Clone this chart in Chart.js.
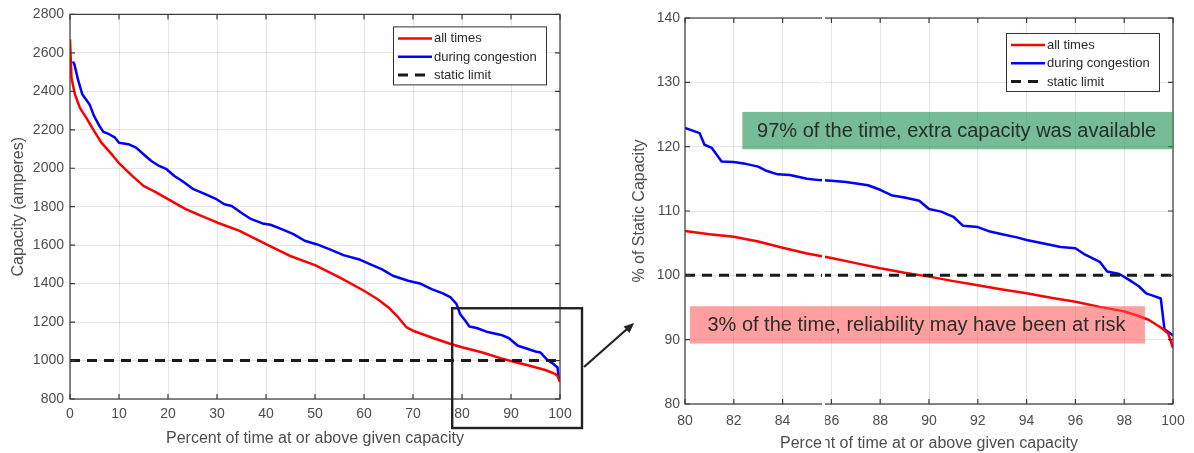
<!DOCTYPE html>
<html><head><meta charset="utf-8">
<script src="https://cdn.jsdelivr.net/npm/chart.js@4.4.1/dist/chart.umd.min.js"></script>
<style>
html,body{margin:0;padding:0;background:#fff;}
#wrap{position:relative;width:1194px;height:453px;overflow:hidden;background:#fff;}
#c1{position:absolute;left:0;top:0;}
#c2{position:absolute;left:600px;top:0;}
#ov{position:absolute;left:0;top:0;pointer-events:none;}
</style></head><body>
<div id="wrap">
<canvas id="c1" width="600" height="453"></canvas>
<canvas id="c2" width="594" height="453"></canvas>
<svg id="ov" width="1194" height="453">
  <line x1="584" y1="367" x2="627" y2="329" stroke="#222" stroke-width="2.2"/>
  <polygon points="634,323 629.5,333 623.5,326.5" fill="#222"/>
</svg>
</div>
<script>
// ---------- DATA ----------
const seriesNames = ['all times', 'during congestion', 'static limit'];
const seriesColors = ['#ff0000', '#0000ff', '#1a1a1a'];

// Left panel: capacity in amperes vs percent of time
const leftXTicks = [0, 10, 20, 30, 40, 50, 60, 70, 80, 90, 100];
const leftYTicks = [800, 1000, 1200, 1400, 1600, 1800, 2000, 2200, 2400, 2600, 2800];

const leftAllX = [0, 0.3, 1, 2, 3.3, 4.9, 6.4, 8.8, 10.2, 12.7, 15, 17.4, 20, 23.6, 26.8, 30, 34.6, 40, 44.8, 50, 55, 60, 62.8, 65, 67, 68.7, 70, 73.8, 77.7, 80, 84, 88, 90, 94, 97, 99, 99.5, 100];
const leftAllY = [2670, 2470, 2385, 2315, 2263, 2194, 2133, 2064, 2021, 1960, 1908, 1877, 1839, 1787, 1752, 1718, 1674, 1605, 1545, 1496, 1432, 1363, 1319, 1276, 1224, 1172, 1155, 1120, 1086, 1069, 1043, 1011, 998, 972, 951, 931, 919, 888];

const leftCongX = [0.6, 0.9, 1.7, 2.5, 4, 4.9, 6, 6.8, 8, 9.2, 10, 11.9, 13.5, 15, 16.6, 18.2, 19.7, 21.3, 22.9, 25.2, 27.6, 29.9, 31.5, 33, 35.4, 37, 39.3, 40.9, 43.2, 45.6, 47.9, 50.3, 53.4, 55.8, 58.9, 61.2, 63.6, 65.9, 69, 71.4, 73.8, 76.1, 77.7, 78.9, 79.6, 80.8, 81.5, 83, 85, 88, 89.6, 91.4, 93, 95, 96, 97.3, 98.6, 99.5, 99.7, 100];
const leftCongY = [2555, 2540, 2454, 2385, 2332, 2272, 2220, 2189, 2177, 2159, 2133, 2125, 2107, 2073, 2038, 2012, 1995, 1960, 1934, 1891, 1865, 1839, 1813, 1804, 1761, 1735, 1713, 1706, 1683, 1657, 1623, 1605, 1574, 1548, 1527, 1501, 1475, 1441, 1415, 1401, 1371, 1349, 1328, 1293, 1242, 1203, 1177, 1169, 1150, 1133, 1116, 1077, 1064, 1047, 1042, 1006, 983, 964, 915, 907];

const leftStaticX = [0, 100];
const leftStaticY = [1000, 1000];

// Right panel: % of static capacity, zoom on 80-100 %
const rightXTicks = [80, 82, 84, 86, 88, 90, 92, 94, 96, 98, 100];
const rightYTicks = [80, 90, 100, 110, 120, 130, 140];

const rightAllX = [80, 81, 82, 83, 84, 85, 86, 87, 88, 89, 90, 91, 92, 93, 94, 95, 96, 97, 98, 98.5, 99, 99.5, 99.8, 100];
const rightAllY = [106.9, 106.4, 106.0, 105.25, 104.3, 103.4, 102.7, 101.9, 101.1, 100.4, 99.8, 99.1, 98.45, 97.8, 97.2, 96.5, 95.9, 95.1, 94.4, 93.8, 93.1, 91.9, 91.0, 88.7];

const rightCongX = [80, 80.6, 80.8, 81.1, 81.5, 82, 82.4, 83, 83.3, 83.8, 84.3, 85, 85.5, 86, 86.6, 87.5, 88, 88.5, 89, 89.6, 90, 90.5, 91, 91.4, 92, 92.5, 93, 93.6, 94, 94.5, 95, 95.4, 96, 96.4, 97, 97.3, 97.8, 98.2, 98.6, 98.9, 99.2, 99.5, 99.65, 100];
const rightCongY = [122.9, 122.1, 120.3, 119.8, 117.7, 117.6, 117.4, 116.9, 116.3, 115.7, 115.6, 115.0, 114.8, 114.7, 114.5, 114.0, 113.3, 112.4, 112.1, 111.6, 110.3, 109.9, 109.1, 107.7, 107.5, 106.8, 106.4, 105.9, 105.5, 105.1, 104.7, 104.4, 104.2, 103.2, 102.1, 100.6, 100.2, 99.3, 98.3, 97.2, 96.8, 96.4, 91.6, 90.7];

const rightStaticX = [80, 100];
const rightStaticY = [100, 100];

const annotationTexts = ['97% of the time, extra capacity was available', '3% of the time, reliability may have been at risk'];

// ---------- HELPERS ----------
const zip = (xs, ys) => xs.map((x, i) => ({x: x, y: ys[i]}));
const FONT = "'Liberation Sans', Arial, Helvetica, sans-serif";
const TXT = '#4d4d4d';

function makeDatasets(ax, ay, cx, cy, sx, sy) {
  return [
    {label: seriesNames[0], data: zip(ax, ay), borderColor: seriesColors[0], borderWidth: 2.5, pointRadius: 0, tension: 0, order: 1, borderJoinStyle: 'round'},
    {label: seriesNames[1], data: zip(cx, cy), borderColor: seriesColors[1], borderWidth: 2.5, pointRadius: 0, tension: 0, order: 2, borderJoinStyle: 'round'},
    {label: seriesNames[2], data: zip(sx, sy), borderColor: seriesColors[2], borderWidth: 3, borderDash: [10, 7], pointRadius: 0, tension: 0, order: 0}
  ];
}

function drawFrame(chart) {
  const ctx = chart.ctx, a = chart.chartArea;
  const xs = chart.scales.x, ys = chart.scales.y;
  ctx.save();
  ctx.strokeStyle = '#3a3a3a';
  ctx.lineWidth = 1.2;
  ctx.strokeRect(a.left, a.top, a.right - a.left, a.bottom - a.top);
  ctx.beginPath();
  xs.ticks.forEach(t => {
    const p = xs.getPixelForValue(t.value);
    ctx.moveTo(p, a.bottom); ctx.lineTo(p, a.bottom - 5);
    ctx.moveTo(p, a.top); ctx.lineTo(p, a.top + 5);
  });
  ys.ticks.forEach(t => {
    const p = ys.getPixelForValue(t.value);
    ctx.moveTo(a.left, p); ctx.lineTo(a.left + 5, p);
    ctx.moveTo(a.right, p); ctx.lineTo(a.right - 5, p);
  });
  ctx.stroke();
  ctx.restore();
}

function drawLegend(chart, bx, by) {
  const ctx = chart.ctx;
  const w = 153, h = 58;
  ctx.save();
  ctx.fillStyle = '#fff';
  ctx.fillRect(bx, by, w, h);
  ctx.strokeStyle = '#333';
  ctx.lineWidth = 1;
  ctx.strokeRect(bx + 0.5, by + 0.5, w, h);
  chart.data.datasets.forEach((ds, i) => {
    const y = by + 12 + i * 18.3;
    ctx.beginPath();
    ctx.strokeStyle = ds.borderColor;
    ctx.lineWidth = ds.borderWidth;
    ctx.setLineDash(ds.borderDash || []);
    ctx.moveTo(bx + 5, y); ctx.lineTo(bx + 39, y);
    ctx.stroke();
    ctx.setLineDash([]);
    ctx.fillStyle = '#2a2a2a';
    ctx.font = '13px ' + FONT;
    ctx.textBaseline = 'middle';
    ctx.textAlign = 'left';
    ctx.fillText(ds.label, bx + 41, y + 0.5);
  });
  ctx.restore();
}

function axisCfg(ticksArr, min, max, title, tickPad, titlePad, isX, fitSize) {
  return {
    type: 'linear', min: min, max: max,
    afterBuildTicks: (s) => { s.ticks = ticksArr.map(v => ({value: v})); },
    afterFit: (s) => { if (isX) s.height = fitSize; else s.width = fitSize; },
    ticks: {color: TXT, font: {size: 14, family: FONT}, padding: tickPad, autoSkip: false, maxRotation: 0,
            callback: (v) => String(v)},
    grid: {color: 'rgba(0,0,0,0.1)', lineWidth: 1, drawTicks: false},
    border: {display: false},
    title: {display: true, text: title, color: TXT, font: {size: 16, family: FONT}, padding: titlePad}
  };
}

// ---------- LEFT CHART ----------
const zoomBoxStart = {x: 78, y: 1272};
new Chart(document.getElementById('c1'), {
  type: 'line',
  data: {datasets: makeDatasets(leftAllX, leftAllY, leftCongX, leftCongY, leftStaticX, leftStaticY)},
  options: {
    responsive: false, animation: false, devicePixelRatio: 1,
    layout: {padding: {top: 14, right: 40, left: 0, bottom: 0}},
    plugins: {legend: {display: false}, tooltip: {enabled: false}},
    scales: {
      x: axisCfg(leftXTicks, 0, 100, 'Percent of time at or above given capacity', 7, {top: 0, bottom: 5}, true, 54),
      y: axisCfg(leftYTicks, 800, 2800, 'Capacity (amperes)', 6, {top: 9, bottom: 0}, false, 70)
    }
  },
  plugins: [{
    id: 'leftDecor',
    afterDraw(chart) {
      drawFrame(chart);
      const a = chart.chartArea, ctx = chart.ctx;
      drawLegend(chart, a.right - 14 - 153, a.top + 12);
      // zoom rectangle
      const l = chart.scales.x.getPixelForValue(zoomBoxStart.x);
      const t = chart.scales.y.getPixelForValue(zoomBoxStart.y);
      ctx.save();
      ctx.strokeStyle = '#222';
      ctx.lineWidth = 2.4;
      ctx.strokeRect(l, t, a.right + 22 - l, a.bottom + 29 - t);
      ctx.restore();
    }
  }]
});

// ---------- RIGHT CHART ----------
const boxes = [
  {x0: 82.35, x1: 100, y0: 125.4, y1: 119.6, fill: 'rgba(40,150,90,0.64)', text: annotationTexts[0]},
  {x0: 80.2, x1: 98.85, y0: 95.2, y1: 89.4, fill: 'rgba(255,80,80,0.55)', text: annotationTexts[1]}
];
new Chart(document.getElementById('c2'), {
  type: 'line',
  data: {datasets: makeDatasets(rightAllX, rightAllY, rightCongX, rightCongY, rightStaticX, rightStaticY)},
  options: {
    responsive: false, animation: false, devicePixelRatio: 1,
    layout: {padding: {top: 18, right: 21, left: 0, bottom: 0}},
    plugins: {legend: {display: false}, tooltip: {enabled: false}},
    scales: {
      x: axisCfg(rightXTicks, 80, 100, 'Percent of time at or above given capacity', 9, {top: 0, bottom: 0}, true, 49),
      y: axisCfg(rightYTicks, 80, 140, '% of Static Capacity', 5, {top: 30, bottom: 0}, false, 85)
    }
  },
  plugins: [{
    id: 'rightDecor',
    afterDraw(chart) {
      drawFrame(chart);
      const ctx = chart.ctx, a = chart.chartArea;
      // white seam present in the source image
      ctx.save();
      ctx.fillStyle = '#fff';
      ctx.fillRect(222, 0, 3, chart.height);
      ctx.restore();
      const xs = chart.scales.x, ys = chart.scales.y;
      boxes.forEach(b => {
        const l = xs.getPixelForValue(b.x0), r = xs.getPixelForValue(b.x1);
        const t = ys.getPixelForValue(b.y0), bt = ys.getPixelForValue(b.y1);
        ctx.save();
        ctx.fillStyle = b.fill;
        ctx.fillRect(l, t, r - l, bt - t);
        ctx.fillStyle = '#2b2b2b';
        ctx.font = '20px ' + FONT;
        ctx.textAlign = 'center';
        ctx.textBaseline = 'middle';
        ctx.fillText(b.text, (l + r) / 2 - 1, (t + bt) / 2 + 1);
        ctx.restore();
      });
      drawLegend(chart, a.right - 14 - 153, a.top + 15);
    }
  }]
});
</script>
</body></html>
